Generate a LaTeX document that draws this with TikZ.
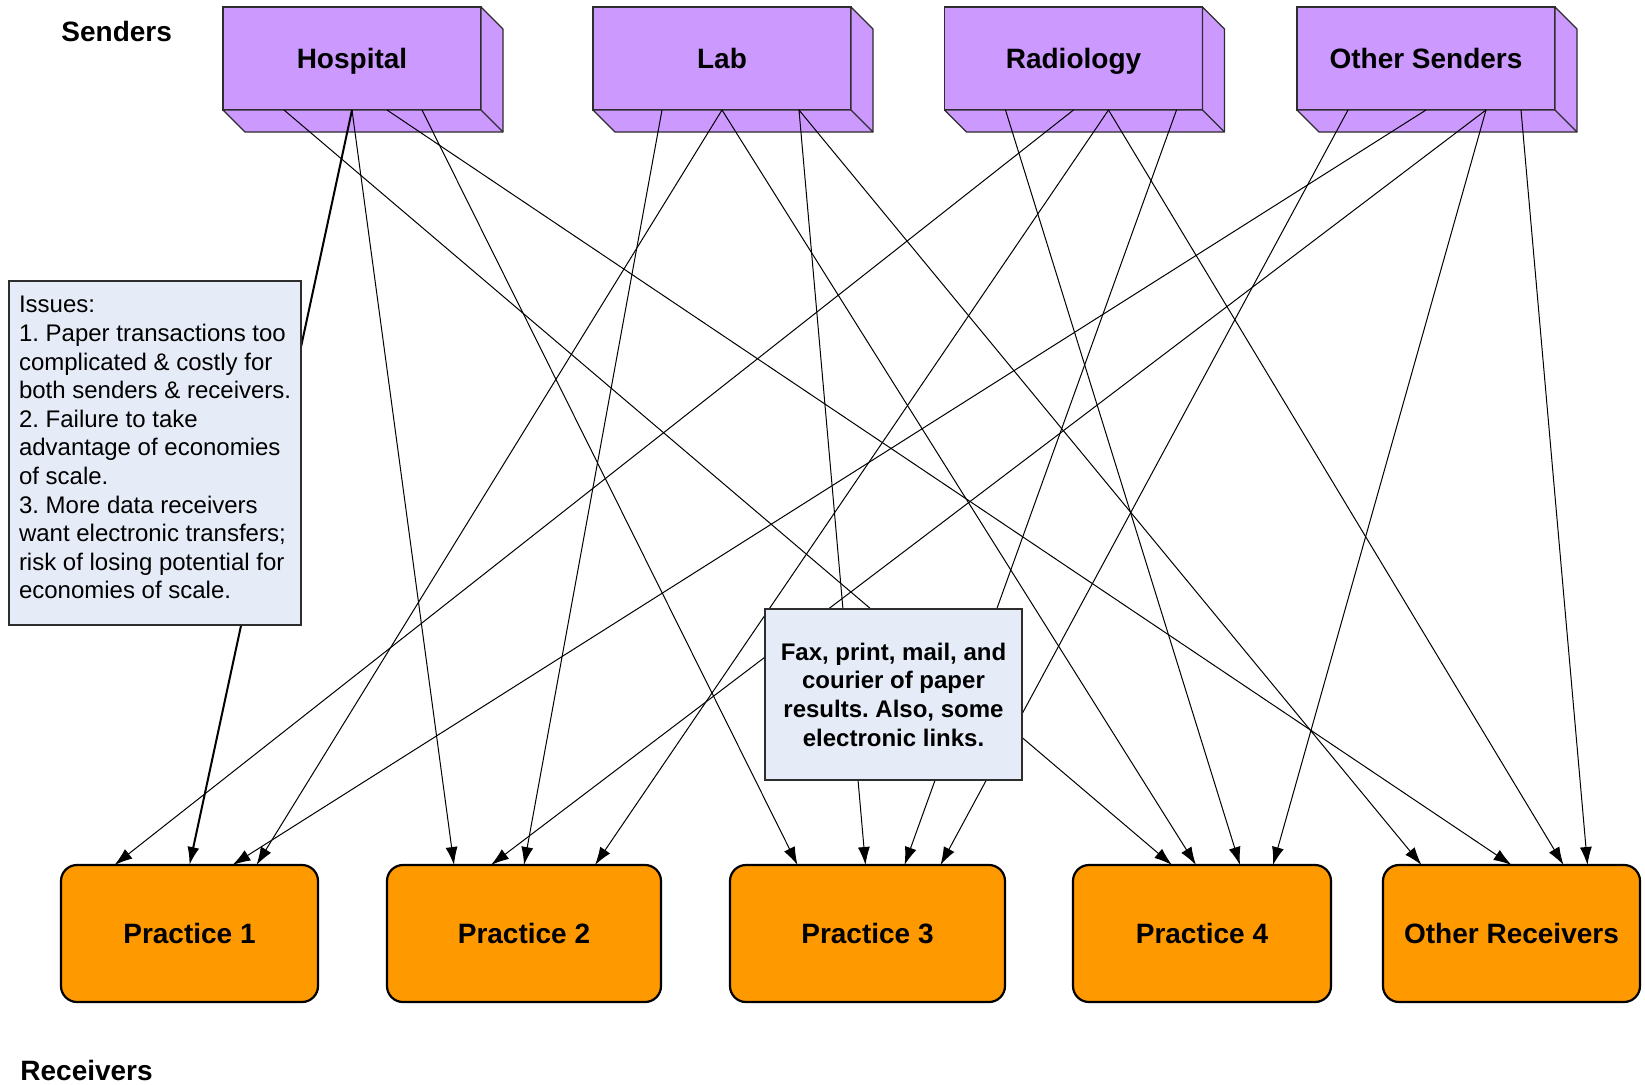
\documentclass[tikz,border=0pt]{standalone}
\usepackage{fontspec}
\setmainfont{Liberation Sans}
\usetikzlibrary{arrows.meta, calc, shapes}
\definecolor{sender}{RGB}{204,153,255}
\definecolor{receiver}{RGB}{255,153,0}
\definecolor{note}{RGB}{230,236,247}
\definecolor{edge}{RGB}{45,45,45}
\frenchspacing

\begin{document}
\begin{tikzpicture}[x=0.5pt, y=-0.5pt]
\tikzstyle{sender} = [rectangle, draw=edge, line width=0.6pt, fill=sender, text=black,
    minimum width=129pt, minimum height=51.5pt, outer sep=0pt, text height=10pt, text depth=0pt,
    font=\fontsize{14}{17}\selectfont\bfseries]
\tikzstyle{face} = [draw=edge, line width=0.6pt, fill=sender, line join=round]
\tikzstyle{receiver} = [rectangle, draw, line width=1.1pt, fill=receiver, text=black,
    rounded corners=8pt, minimum height=68.5pt, outer sep=0pt, text height=10pt, text depth=0pt,
    font=\fontsize{14}{17}\selectfont\bfseries]
\tikzstyle{note} = [rectangle, draw=edge, line width=0.6pt, fill=note, text=black, outer sep=0pt]
\tikzstyle{line} = [draw, line width=0.5pt, -{Latex[length=9pt, width=6pt]}]
\tikzstyle{label} = [anchor=west, inner sep=0pt, font=\fontsize{14}{17}\selectfont\bfseries]

    \useasboundingbox (0,0) rectangle (1645,1084);

    % Place nodes
    \node [label] (senders) at (61,31.5) {Senders};
    \node [label] (receivers) at (20,1070) {Receivers};

    \node [sender] (hosp) at (352,58.5) {Hospital};
    \node [sender] (lab) at (722,58.5) {Lab};
    \node [sender] (rad) at (1073.5,58.5) {Radiology};
    \node [sender] (oth) at (1426,58.5) {Other Senders};

    % 3d faces of the senders
    \foreach \n in {hosp, lab, rad, oth} {
        \draw [face] (\n.south west) -- ++(22,22) -- ([shift={(22,22)}]\n.south east)
            -- ([shift={(22,22)}]\n.north east) -- (\n.north east) -- (\n.south east) -- cycle;
        \draw [face] (\n.south east) -- ++(22,22);
    }

    \node [receiver, minimum width=128.5pt] (p1) at (189.5,933.5) {Practice 1};
    \node [receiver, minimum width=137pt] (p2) at (524,933.5) {Practice 2};
    \node [receiver, minimum width=137.5pt] (p3) at (867.5,933.5) {Practice 3};
    \node [receiver, minimum width=129pt] (p4) at (1202,933.5) {Practice 4};
    \node [receiver, minimum width=128.5pt] (oth rec) at (1511.5,933.5) {Other Receivers};

%paths
    \path [line, line width=1pt] (hosp.south) -- (p1.north);
    \foreach \s/\a/\r/\b in {hosp/-68/p4/-30, hosp/0/p2/-70, hosp/35/oth rec/0, hosp/70/p3/-70,
        lab/-60/p2/0, lab/0/p1/67, lab/0/p4/-6, lab/77/p3/-2, lab/77/oth rec/-90,
        rad/-68/p4/38, rad/0/p1/-75, rad/35/p2/71, rad/35/oth rec/52, rad/103/p3/37,
        oth/-78/p3/73, oth/0/p1/43, oth/60/p2/-33, oth/60/p4/71, oth/95/oth rec/76}
        \path [line] ($(\s.south)+(\a,0)$) -- ($(\r.north)+(\b,0)$);

    % notes on top of the paths
    \node [note, minimum width=146pt, minimum height=172pt] (issues) at (155,453) {};
    \node [anchor=north west, inner sep=0pt, align=left, font=\fontsize{12}{14.3}\selectfont]
        (issues text) at ([shift={(9.6,15)}]issues.north west) {Issues:\\
        1. Paper transactions too\\
        complicated \& costly for\\
        both senders \& receivers.\\
        2. Failure to take\\
        advantage of economies\\
        of scale.\\
        3. More data receivers\\
        want electronic transfers;\\
        risk of losing potential for\\
        economies of scale.};
    \node [note, minimum width=128.5pt, minimum height=85.5pt, align=center,
        font=\fontsize{12}{14.35}\selectfont\bfseries] (fax) at (893.5,694.5) {Fax, print, mail, and\\
        courier of paper\\
        results. Also, some\\
        electronic links.};

\end{tikzpicture}
\end{document}
